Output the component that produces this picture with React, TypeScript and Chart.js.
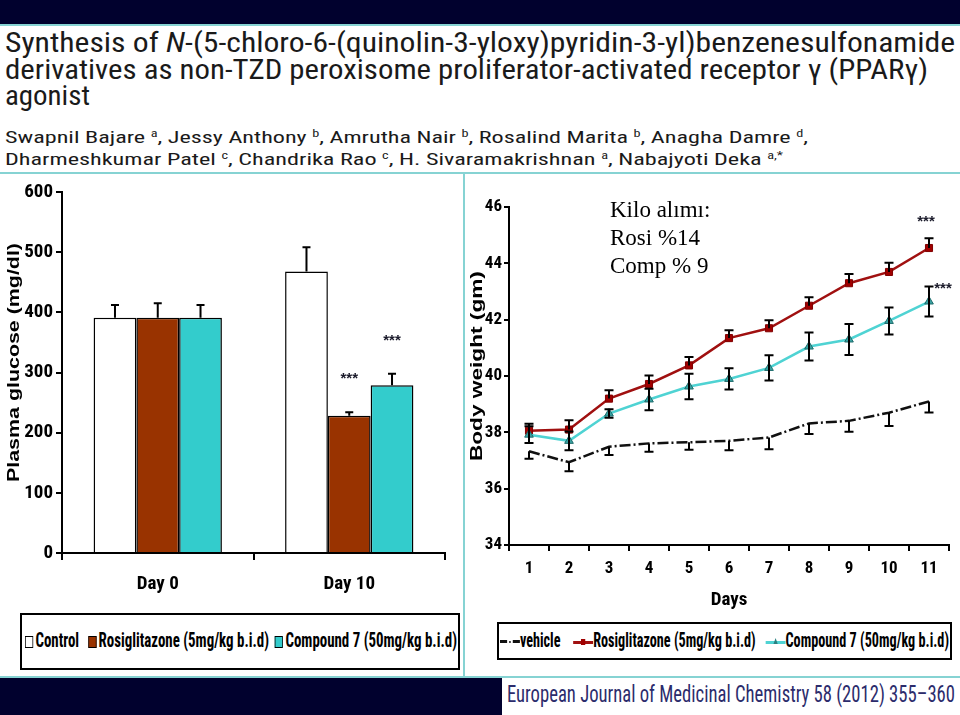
import React, { useEffect, useLayoutEffect, useRef } from "react";
import { Chart, registerables } from "chart.js";

Chart.register(...registerables);

// ---------- Data ----------
const glucoseCategories = ["Day 0", "Day 10"];
const glucoseTicks = [0, 100, 200, 300, 400, 500, 600];
const controlGlucose = [391, 468];
const controlGlucoseErr = [21, 40];
const rosiGlucose = [391, 228];
const rosiGlucoseErr = [24, 6];
const compGlucose = [391, 279];
const compGlucoseErr = [21, 19];
const rosiGlucoseStars = ["", "***"];
const compGlucoseStars = ["", "***"];

const days = ["1", "2", "3", "4", "5", "6", "7", "8", "9", "10", "11"];
const weightTicks = [34, 36, 38, 40, 42, 44, 46];
const vehicleWeight = [37.33, 36.94, 37.49, 37.61, 37.65, 37.7, 37.82, 38.32, 38.41, 38.7, 39.1];
const vehicleWeightErr = [0.27, 0.32, 0.29, 0.3, 0.27, 0.33, 0.42, 0.38, 0.39, 0.47, 0.39];
const rosiWeight = [38.06, 38.1, 39.2, 39.72, 40.38, 41.35, 41.7, 42.5, 43.3, 43.7, 44.55];
const rosiWeightErr = [0.25, 0.33, 0.3, 0.3, 0.3, 0.28, 0.28, 0.3, 0.33, 0.33, 0.35];
const compWeight = [37.92, 37.7, 38.67, 39.17, 39.63, 39.9, 40.29, 41.05, 41.3, 41.96, 42.65];
const compWeightErr = [0.3, 0.33, 0.15, 0.38, 0.45, 0.38, 0.45, 0.5, 0.55, 0.48, 0.53];
const rosiWeightStars = ["", "", "", "", "", "", "", "", "", "", "***"];
const compWeightStars = ["", "", "", "", "", "", "", "", "", "", "***"];

const noteLines = ["Kilo alımı:", "Rosi %14", "Comp % 9"];
const journalText = "European Journal of Medicinal Chemistry 58 (2012) 355\u2013360";

// ---------- Styles ----------
const NAVY = "#01012e";
const TEAL_LINE = "#86d3d3";
const NARROW = "'Roboto Condensed', 'DejaVu Sans Condensed', sans-serif";
const ARIAL = "'Liberation Sans', Arial, sans-serif";
const BROWN = "#993300";
const TEAL = "#33cccc";
const RED = "#a01010";
const LINE_TEAL = "#4fd3d3";

const errorBarPlugin = {
  id: "errorBars",
  afterDatasetsDraw(chart: any) {
    const { ctx } = chart;
    const ys = chart.scales.y;
    chart.data.datasets.forEach((ds: any, i: number) => {
      const errs = ds.errors;
      if (!errs) return;
      const meta = chart.getDatasetMeta(i);
      const cap = ds.capWidth || 8;
      meta.data.forEach((el: any, j: number) => {
        const v = ds.data[j];
        const e = errs[j];
        const x = el.x;
        const y0 = ys.getPixelForValue(v);
        ctx.save();
        ctx.strokeStyle = "#000";
        ctx.lineWidth = 2;
        ctx.beginPath();
        const dir = ds.errDir || "up";
        let topY = y0;
        if (dir === "up" || dir === "both") {
          const yt = ys.getPixelForValue(v + e);
          topY = yt;
          ctx.moveTo(x, y0);
          ctx.lineTo(x, yt);
          ctx.moveTo(x - cap / 2, yt);
          ctx.lineTo(x + cap / 2, yt);
        }
        if (dir === "down" || dir === "both") {
          const yb = ys.getPixelForValue(v - e);
          ctx.moveTo(x, y0);
          ctx.lineTo(x, yb);
          ctx.moveTo(x - cap / 2, yb);
          ctx.lineTo(x + cap / 2, yb);
        }
        ctx.stroke();
        const star = ds.stars ? ds.stars[j] : "";
        if (star) {
          ctx.fillStyle = "#1a1a2a";
          ctx.font = "bold 15px " + ARIAL;
          ctx.textAlign = "center";
          ctx.textBaseline = "middle";
          ctx.fillText(star, x + (ds.starDx || 0), topY - (ds.starDy || 20));
        }
        ctx.restore();
      });
    });
  },
};

// Draws the y-axis title stretched along its length (like the original figure)
const stretchTitlePlugin = {
  id: "stretchTitle",
  afterLayout(chart: any, _args: any, opts: any) {
    const s: any = chart.scales.y;
    s.drawTitle = function () {
      const t = this.options.title;
      if (!t || !t.display) return;
      const ctx = this.ctx;
      ctx.save();
      ctx.font = `bold ${opts.size}px ${ARIAL}`;
      ctx.fillStyle = "#000";
      ctx.textAlign = "center";
      ctx.textBaseline = "middle";
      const w = ctx.measureText(t.text).width;
      const cy = (chart.chartArea.top + chart.chartArea.bottom) / 2 + (opts.dy || 0);
      ctx.translate(opts.x, cy);
      ctx.rotate(-Math.PI / 2);
      ctx.scale(opts.length / w, 1);
      ctx.fillText(t.text, 0, 0);
      ctx.restore();
    };
  },
};

function GlucoseChart() {
  const ref = useRef<HTMLCanvasElement>(null);
  useEffect(() => {
    const chart = new Chart(ref.current!, {
      type: "bar",
      data: {
        labels: glucoseCategories,
        datasets: [
          { label: "Control", data: controlGlucose, errors: controlGlucoseErr, backgroundColor: "#ffffff", borderColor: "#000", borderWidth: 1.5 } as any,
          { label: "Rosiglitazone (5mg/kg b.i.d)", data: rosiGlucose, errors: rosiGlucoseErr, stars: rosiGlucoseStars, starDy: 33, backgroundColor: BROWN, borderColor: "#000", borderWidth: 1.5 } as any,
          { label: "Compound 7 (50mg/kg b.i.d)", data: compGlucose, errors: compGlucoseErr, stars: compGlucoseStars, starDy: 33, backgroundColor: TEAL, borderColor: "#000", borderWidth: 1.5 } as any,
        ],
      },
      plugins: [errorBarPlugin, stretchTitlePlugin],
      options: {
        animation: false,
        responsive: false,
        maintainAspectRatio: false,
        layout: { padding: { top: 17, right: 17, left: 0, bottom: 0 } },
        plugins: {
          legend: { display: false },
          tooltip: { enabled: false },
          stretchTitle: { size: 17, x: 14, dy: -10, length: 239 },
        },
        datasets: { bar: { categoryPercentage: 0.67, barPercentage: 1 } },
        scales: {
          x: {
            grid: { drawOnChartArea: false, drawTicks: true, tickLength: 7, color: "#000", lineWidth: 2, offset: true },
            border: { color: "#000", width: 2 },
            ticks: { color: "#000", font: { family: NARROW, size: 19, weight: "bold" }, padding: 13 },
            afterFit: (s: any) => { s.height = 57; },
          },
          y: {
            min: 0,
            max: 600,
            afterBuildTicks: (s: any) => { s.ticks = glucoseTicks.map((v) => ({ value: v })); },
            grid: { drawOnChartArea: false, drawTicks: true, tickLength: 6, color: "#000", lineWidth: 2 },
            border: { color: "#000", width: 2 },
            ticks: { color: "#000", font: { family: NARROW, size: 19, weight: "bold" }, padding: 3 },
            title: { display: true, text: "Plasma glucose (mg/dl)", color: "#000", font: { family: ARIAL, size: 17, weight: "bold" }, padding: 0 },
            afterFit: (s: any) => { s.width = 62; },
          },
        },
      } as any,
    });
    return () => chart.destroy();
  }, []);
  return <canvas ref={ref} width={462} height={435} style={{ position: "absolute", left: 0, top: 175 }} />;
}

function WeightChart() {
  const ref = useRef<HTMLCanvasElement>(null);
  useEffect(() => {
    const chart = new Chart(ref.current!, {
      type: "line",
      data: {
        labels: days,
        datasets: [
          { label: "vehicle", data: vehicleWeight, errors: vehicleWeightErr, errDir: "down", capWidth: 9, borderColor: "#111", borderWidth: 2.5, borderDash: [11, 3, 2, 3], pointRadius: 0, fill: false } as any,
          { label: "Compound 7 (50mg/kg b.i.d)", data: compWeight, errors: compWeightErr, errDir: "both", capWidth: 9, stars: compWeightStars, starDx: 14, starDy: -2, borderColor: LINE_TEAL, borderWidth: 2.5, pointStyle: "triangle", pointRadius: 5, pointBackgroundColor: "#3aa3a3", pointBorderColor: "#1d6b6b", pointBorderWidth: 1, fill: false } as any,
          { label: "Rosiglitazone (5mg/kg b.i.d)", data: rosiWeight, errors: rosiWeightErr, errDir: "up", capWidth: 9, stars: rosiWeightStars, starDx: -3, starDy: 16, borderColor: RED, borderWidth: 2.5, pointStyle: "rect", pointRadius: 5, pointBackgroundColor: "#a00000", pointBorderColor: "#800000", pointBorderWidth: 1, fill: false } as any,
        ],
      },
      plugins: [errorBarPlugin, stretchTitlePlugin],
      options: {
        animation: false,
        responsive: false,
        maintainAspectRatio: false,
        layout: { padding: { top: 11, right: 3, left: 0, bottom: 0 } },
        plugins: {
          legend: { display: false },
          tooltip: { enabled: false },
          stretchTitle: { size: 17, x: 9, dy: -10, length: 190 },
        },
        scales: {
          x: {
            offset: true,
            grid: { drawOnChartArea: false, drawTicks: true, tickLength: 6, color: "#000", lineWidth: 2, offset: true },
            border: { color: "#000", width: 2 },
            ticks: { color: "#000", font: { family: NARROW, size: 17, weight: "bold" }, padding: 8 },
            title: { display: true, text: "Days", color: "#000", font: { family: NARROW, size: 19, weight: "bold" }, padding: { top: 8, bottom: 0 } },
            afterFit: (s: any) => { s.height = 67; },
          },
          y: {
            min: 34,
            max: 46,
            afterBuildTicks: (s: any) => { s.ticks = weightTicks.map((v) => ({ value: v })); },
            grid: { drawOnChartArea: false, drawTicks: true, tickLength: 5, color: "#000", lineWidth: 2 },
            border: { color: "#000", width: 2 },
            ticks: { color: "#000", font: { family: NARROW, size: 17, weight: "bold" }, padding: 2 },
            title: { display: true, text: "Body weight (gm)", color: "#000", font: { family: ARIAL, size: 17, weight: "bold" }, padding: 0 },
            afterFit: (s: any) => { s.width = 41; },
          },
        },
      } as any,
    });
    return () => chart.destroy();
  }, []);
  return <canvas ref={ref} width={487} height={417} style={{ position: "absolute", left: 468, top: 195 }} />;
}

// Scales its content horizontally to an exact width
function Fit({ width, left, top, style, children }: { width: number; left: number; top: number; style?: React.CSSProperties; children: React.ReactNode }) {
  const ref = useRef<HTMLDivElement>(null);
  const measure = () => {
    const el = ref.current;
    if (!el) return;
    el.style.transform = "none";
    const w = el.getBoundingClientRect().width;
    if (w > 0) el.style.transform = `scaleX(${width / w})`;
  };
  useLayoutEffect(() => {
    measure();
    if ((document as any).fonts) (document as any).fonts.ready.then(measure);
  });
  return (
    <div
      ref={ref}
      style={{ position: "absolute", left, top, display: "inline-block", whiteSpace: "nowrap", transformOrigin: "left center", lineHeight: "normal", ...style }}
    >
      {children}
    </div>
  );
}

function Sq({ color }: { color: string }) {
  return <span style={{ display: "inline-block", width: 9, height: 10, background: color, border: "1px solid #000", marginRight: 3, verticalAlign: "-1px" }} />;
}

function LineSym({ color, marker }: { color: string; marker: "dashdot" | "square" | "triangle" }) {
  if (marker === "dashdot") {
    return (
      <span style={{ display: "inline-flex", alignItems: "center", width: 28, height: 10, verticalAlign: "middle" }}>
        <span style={{ width: 10, height: 3, background: color }} />
        <span style={{ width: 3 }} />
        <span style={{ width: 2, height: 2, background: color }} />
        <span style={{ width: 3 }} />
        <span style={{ width: 10, height: 3, background: color }} />
      </span>
    );
  }
  return (
    <span style={{ position: "relative", display: "inline-block", width: 28, height: 10, verticalAlign: "middle" }}>
      <span style={{ position: "absolute", left: 0, top: 4, width: 28, height: 3, background: color }} />
      {marker === "square" ? (
        <span style={{ position: "absolute", left: 11, top: 2, width: 6, height: 6, background: "#a00000" }} />
      ) : (
        <span style={{ position: "absolute", left: 11, top: 1, width: 0, height: 0, borderLeft: "3px solid transparent", borderRight: "3px solid transparent", borderBottom: "6px solid #2a8080" }} />
      )}
    </span>
  );
}

const sup: React.CSSProperties = { fontSize: 10, verticalAlign: "6px", lineHeight: 0 };

export default function App() {
  const legendFont = `bold 20px ${NARROW}`;
  return (
    <div style={{ position: "absolute", left: 0, top: 0, width: 960, height: 715, background: "#fff", overflow: "hidden" }}>
      {/* top band */}
      <div style={{ position: "absolute", left: 0, top: 0, width: 960, height: 24, background: NAVY }} />
      <div style={{ position: "absolute", left: 0, top: 24, width: 960, height: 2, background: TEAL_LINE }} />

      {/* title */}
      <Fit width={950} left={5} top={26} style={{ font: `28px ${NARROW}`, color: "#1a1a1a" }}>
        Synthesis of <i>N</i>-(5-chloro-6-(quinolin-3-yloxy)pyridin-3-yl)benzenesulfonamide
      </Fit>
      <Fit width={923} left={5} top={53} style={{ font: `28px ${NARROW}`, color: "#1a1a1a" }}>
        derivatives as non-TZD peroxisome proliferator-activated receptor {"\u03b3"} (PPAR{"\u03b3"})
      </Fit>
      <Fit width={85} left={5} top={79} style={{ font: `28px ${NARROW}`, color: "#1a1a1a" }}>
        agonist
      </Fit>

      {/* authors */}
      <Fit width={803} left={5} top={127} style={{ font: `17px ${NARROW}`, color: "#1a1a1a" }}>
        Swapnil Bajare <span style={sup}>a</span>, Jessy Anthony <span style={sup}>b</span>, Amrutha Nair <span style={sup}>b</span>, Rosalind Marita <span style={sup}>b</span>, Anagha Damre <span style={sup}>d</span>,
      </Fit>
      <Fit width={778} left={5} top={149} style={{ font: `17px ${NARROW}`, color: "#1a1a1a" }}>
        Dharmeshkumar Patel <span style={sup}>c</span>, Chandrika Rao <span style={sup}>c</span>, H. Sivaramakrishnan <span style={sup}>a</span>, Nabajyoti Deka <span style={sup}>a,*</span>
      </Fit>

      {/* separators */}
      <div style={{ position: "absolute", left: 0, top: 172, width: 960, height: 2, background: TEAL_LINE }} />
      <div style={{ position: "absolute", left: 463, top: 174, width: 2, height: 502, background: TEAL_LINE }} />

      <GlucoseChart />
      <WeightChart />

      {/* left legend */}
      <div style={{ position: "absolute", left: 20, top: 613, width: 436, height: 53, border: "2px solid #000" }} />
      <Fit width={432} left={25} top={628} style={{ font: legendFont, color: "#000" }}>
        <Sq color="#fff" />Control<span style={{ display: "inline-block", width: 12 }} />
        <Sq color={BROWN} />Rosiglitazone (5mg/kg b.i.d)<span style={{ display: "inline-block", width: 8 }} />
        <Sq color={TEAL} />Compound 7 (50mg/kg b.i.d)
      </Fit>

      {/* right legend */}
      <div style={{ position: "absolute", left: 497, top: 622, width: 451, height: 34, border: "2px solid #000" }} />
      <Fit width={449} left={500} top={628} style={{ font: legendFont, color: "#000" }}>
        <LineSym color="#111" marker="dashdot" />vehicle<span style={{ display: "inline-block", width: 18 }} />
        <LineSym color={RED} marker="square" />Rosiglitazone (5mg/kg b.i.d)<span style={{ display: "inline-block", width: 14 }} />
        <LineSym color={LINE_TEAL} marker="triangle" />Compound 7 (50mg/kg b.i.d)
      </Fit>

      {/* note */}
      <div style={{ position: "absolute", left: 610, top: 196, font: `23px 'Liberation Serif', 'Times New Roman', serif`, lineHeight: "28px", color: "#000", whiteSpace: "nowrap" }}>
        {noteLines.map((t) => (
          <div key={t}>{t}</div>
        ))}
      </div>

      {/* bottom band */}
      <div style={{ position: "absolute", left: 0, top: 676, width: 960, height: 2, background: TEAL_LINE }} />
      <div style={{ position: "absolute", left: 0, top: 678, width: 960, height: 37, background: NAVY }} />
      <div style={{ position: "absolute", left: 502, top: 678, width: 458, height: 37, background: "#fff" }} />
      <Fit width={448} left={507} top={680} style={{ font: `24px ${NARROW}`, color: "#2c2c6c" }}>
        {journalText}
      </Fit>
    </div>
  );
}
